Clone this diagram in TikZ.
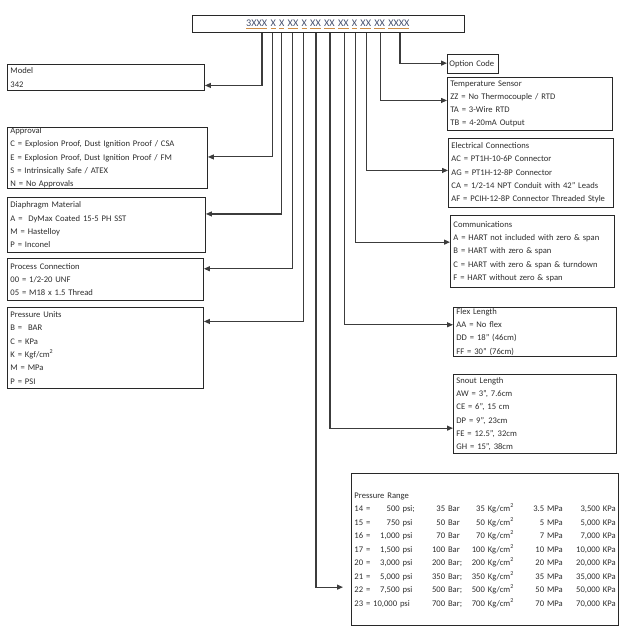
\documentclass[tikz,border=0pt]{standalone}
\usepackage{fontspec}
\setmainfont{Carlito}
\usepackage{array}
\usetikzlibrary{arrows.meta}
\definecolor{boxline}{RGB}{40,40,40}
\definecolor{boxtext}{RGB}{45,45,45}
\definecolor{wire}{RGB}{60,60,60}
\definecolor{codetext}{RGB}{70,80,110}
\definecolor{codeline}{RGB}{205,140,70}
\newcommand\grp[1]{\textcolor{codeline}{\underline{\textcolor{codetext}{#1}}}}
\newcommand\gap{\hspace{3.3pt}}
\newcolumntype{R}[1]{>{\raggedleft\arraybackslash}p{#1}}

\begin{document}
\begin{tikzpicture}[x=1pt,y=-1pt,
  infobox/.style={draw=boxline,line width=0.9pt,anchor=north west,inner xsep=3pt,inner ysep=0pt,
    align=left,text=boxtext,font=\fontsize{8.6}{13.3}\selectfont},
  link/.style={draw=wire,line width=1.1pt,-{Triangle[length=6pt,width=5pt]}}]
\useasboundingbox (0,0) rectangle (626,639);
\node[draw=boxline,line width=0.9pt,anchor=north west,minimum width=272pt,minimum height=16.5pt,
  inner sep=0pt] (code) at (192,15.5) {};
\node[anchor=base west,inner sep=0pt,font=\fontsize{10.2}{11}\selectfont] (codetxt) at (246,27)
  {\grp{3XXX}\gap\grp{X}\gap\grp{X}\gap\grp{XX}\gap\grp{X}\gap\grp{XX}\gap\grp{XX}\gap\grp{XX}\gap\grp{X}\gap\grp{XX}\gap\grp{XX}\gap\grp{XXXX}};

\node[infobox,text width=191pt,minimum height=26pt] (model) at (7,64) {Model\\342};
\node[infobox,text width=194pt,minimum height=61pt] (approval) at (7,127) {Approval\\
  C = Explosion Proof, Dust Ignition Proof / CSA\\
  E = Explosion Proof, Dust Ignition Proof / FM\\
  S = Intrinsically Safe / ATEX\\
  N = No Approvals};
\node[infobox,text width=192pt,minimum height=55pt] (diaphragm) at (7,197) {Diaphragm Material\\
  A = \ DyMax Coated 15-5 PH SST\\
  M = Hastelloy\\
  P = Inconel};
\node[infobox,text width=190pt,minimum height=42pt] (process) at (7,258) {Process Connection\\
  00 = 1/2-20 UNF\\
  05 = M18 x 1.5 Thread};
\node[infobox,text width=190pt,minimum height=81pt] (units) at (7,307) {Pressure Units\\
  B = \ BAR\\
  C = KPa\\
  K = Kgf/cm\textsuperscript{2}\\
  M = MPa\\
  P = PSI};

\node[infobox,inner xsep=2pt,text width=47pt,minimum height=19pt] (option) at (447,54) {Option Code};
\node[infobox,text width=159pt,minimum height=53pt] (temp) at (447,77) {Temperature Sensor\\
  ZZ = No Thermocouple / RTD\\
  TA = 3-Wire RTD\\
  TB = 4-20mA Output};
\node[infobox,text width=159pt,minimum height=69pt] (elec) at (448,138) {Electrical Connections\\
  AC = PT1H-10-6P Connector\\
  AG = PT1H-12-8P Connector\\
  CA = 1/2-14 NPT Conduit with 42" Leads\\
  AF = PCIH-12-8P Connector Threaded Style};
\node[infobox,text width=158pt,minimum height=72pt] (comm) at (450,215) {Communications\\
  A = HART not included with zero \& span\\
  B = HART with zero \& span\\
  C = HART with zero \& span \& turndown\\
  F = HART without zero \& span};
\node[infobox,text width=157pt,minimum height=49pt] (flex) at (453,307) {Flex Length\\
  AA = No flex\\
  DD = 18" (46cm)\\
  FF = 30" (76cm)};
\node[infobox,text width=157pt,minimum height=79pt] (snout) at (453,374) {Snout Length\\
  AW = 3", 7.6cm\\
  CE = 6", 15 cm\\
  DP = 9", 23cm\\
  FE = 12.5", 32cm\\
  GH = 15", 38cm};
\node[infobox,text width=261pt,minimum height=152pt] (range) at (351,473) {%
  \fontsize{8.6}{13.5}\selectfont
  \begin{tabular}{@{}p{18pt}@{}R{40pt}@{}R{44pt}@{}R{54pt}@{}R{49pt}@{}R{53pt}@{}}
  \multicolumn{6}{@{}l}{Pressure Range}\\
  14 = & 500 psi\rlap{;} & 35 Bar & 35 Kg/cm\textsuperscript{2} & 3.5 MPa & 3,500 KPa\\
  15 = & 750 psi & 50 Bar & 50 Kg/cm\textsuperscript{2} & 5 MPa & 5,000 KPa\\
  16 = & 1,000 psi & 70 Bar & 70 Kg/cm\textsuperscript{2} & 7 MPa & 7,000 KPa\\
  17 = & 1,500 psi & 100 Bar & 100 Kg/cm\textsuperscript{2} & 10 MPa & 10,000 KPa\\
  20 = & 3,000 psi & 200 Bar\rlap{;} & 200 Kg/cm\textsuperscript{2} & 20 MPa & 20,000 KPa\\
  21 = & 5,000 psi & 350 Bar\rlap{;} & 350 Kg/cm\textsuperscript{2} & 35 MPa & 35,000 KPa\\
  22 = & 7,500 psi & 500 Bar\rlap{;} & 500 Kg/cm\textsuperscript{2} & 50 MPa & 50,000 KPa\\
  \multicolumn{2}{@{}l}{23 = 10,000 psi} & 700 Bar\rlap{;} & 700 Kg/cm\textsuperscript{2} & 70 MPa & 70,000 KPa
  \end{tabular}};

\draw[link] (code.south -| 262,0) |- ([yshift=-8pt]model.east);
\draw[link] (code.south -| 272.7,0) |- ([yshift=1pt]approval.east);
\draw[link] (code.south -| 281.7,0) |- ([yshift=11pt]diaphragm.east);
\draw[link] (code.south -| 292.7,0) |- ([yshift=10.7pt]process.east);
\draw[link] (code.south -| 303.3,0) |- ([yshift=26.5pt]units.east);
\draw[link,shorten >=8pt] (code.south -| 316,0) |- ([yshift=-37.7pt]range.west);
\draw[link] (code.south -| 330,0) |- ([yshift=-14.2pt]snout.west);
\draw[link] (code.south -| 344.3,0) |- ([yshift=7.2pt]flex.west);
\draw[link] (code.south -| 355.7,0) |- ([yshift=9.3pt]comm.west);
\draw[link] (code.south -| 366.7,0) |- ([yshift=2.5pt]elec.west);
\draw[link] (code.south -| 380.7,0) |- ([yshift=3.5pt]temp.west);
\draw[link] (code.south -| 400,0) |- ([yshift=0.8pt]option.west);
\end{tikzpicture}
\end{document}
